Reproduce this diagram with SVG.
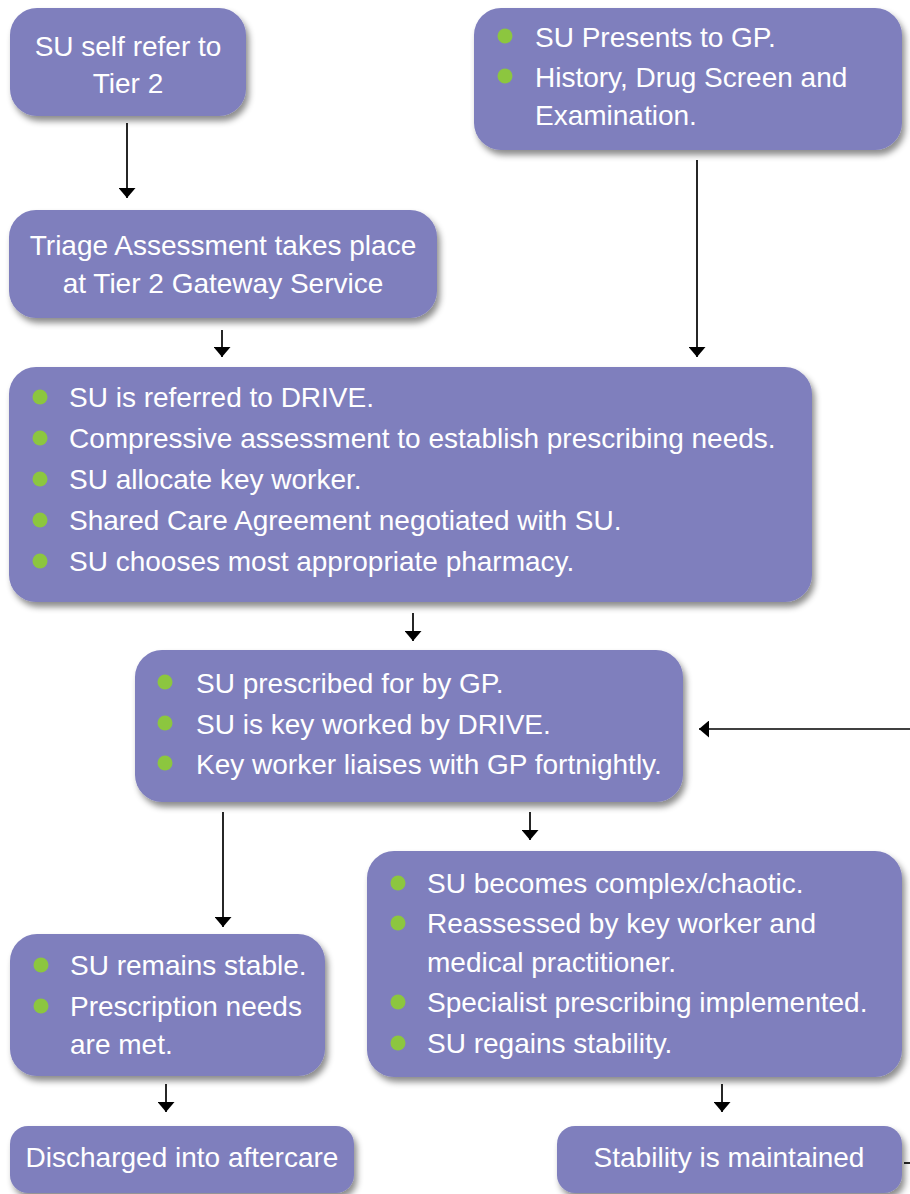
<svg xmlns="http://www.w3.org/2000/svg" width="910" height="1194" viewBox="0 0 910 1194">
<style>
.box{fill:#7F7FBD;filter:url(#sh)}
.t{font-family:"Liberation Sans",Arial,Helvetica,sans-serif;font-size:28px;fill:#FFFFFF}
.c{text-anchor:middle}
.b{fill:#8CC63F}
.ln{stroke:#000;stroke-width:1.7;fill:none}
.arr{marker-end:url(#ah)}
</style>
<defs>
<filter id="sh" x="-10%" y="-10%" width="130%" height="140%">
<feDropShadow dx="3" dy="5" stdDeviation="3" flood-color="#000" flood-opacity="0.45"/>
</filter>
<marker id="ah" viewBox="0 0 10 17" refX="10" refY="8.5" markerWidth="10" markerHeight="17" markerUnits="userSpaceOnUse" orient="auto">
<path d="M0,0 L10,8.5 L0,17 z" fill="#000"/>
</marker>
</defs>
<rect width="910" height="1194" fill="#FFFFFF"/>

<g id="connectors">
<line class="ln arr" x1="127" y1="123" x2="127" y2="198"/>
<line class="ln arr" x1="222" y1="330" x2="222" y2="357"/>
<line class="ln arr" x1="697" y1="160" x2="697" y2="357"/>
<line class="ln arr" x1="413" y1="613" x2="413" y2="641"/>
<line class="ln arr" x1="223" y1="812" x2="223" y2="927"/>
<line class="ln arr" x1="530" y1="812" x2="530" y2="840"/>
<line class="ln arr" x1="166" y1="1084" x2="166" y2="1112"/>
<line class="ln arr" x1="722" y1="1084" x2="722" y2="1112"/>
<line class="ln arr" x1="910" y1="729" x2="699" y2="729"/>
<line class="ln" x1="904" y1="1163" x2="910" y2="1163"/>
</g>

<g id="n-self-refer">
<rect class="box" x="10" y="8" width="236" height="108" rx="27"/>
<text class="t c" x="128" y="56">SU self refer to</text>
<text class="t c" x="128" y="93">Tier 2</text>
</g>

<g id="n-presents-gp">
<rect class="box" x="474" y="8" width="428" height="142" rx="27"/>
<circle class="b" cx="505" cy="36" r="7.5"/>
<text class="t" x="535" y="47">SU Presents to GP.</text>
<circle class="b" cx="505" cy="76" r="7.5"/>
<text class="t" x="535" y="87">History, Drug Screen and</text>
<text class="t" x="535" y="125">Examination.</text>
</g>

<g id="n-triage">
<rect class="box" x="9" y="210" width="428" height="108" rx="27"/>
<text class="t c" x="223" y="255">Triage Assessment takes place</text>
<text class="t c" x="223" y="293">at Tier 2 Gateway Service</text>
</g>

<g id="n-drive">
<rect class="box" x="9" y="367" width="803" height="235" rx="27"/>
<circle class="b" cx="40" cy="397" r="7.5"/>
<text class="t" x="69" y="407">SU is referred to DRIVE.</text>
<circle class="b" cx="40" cy="438" r="7.5"/>
<text class="t" x="69" y="448">Compressive assessment to establish prescribing needs.</text>
<circle class="b" cx="40" cy="479" r="7.5"/>
<text class="t" x="69" y="489">SU allocate key worker.</text>
<circle class="b" cx="40" cy="520" r="7.5"/>
<text class="t" x="69" y="530">Shared Care Agreement negotiated with SU.</text>
<circle class="b" cx="40" cy="561" r="7.5"/>
<text class="t" x="69" y="571">SU chooses most appropriate pharmacy.</text>
</g>

<g id="n-prescribed">
<rect class="box" x="135" y="650" width="548" height="152" rx="27"/>
<circle class="b" cx="165" cy="682" r="7.5"/>
<text class="t" x="196" y="693">SU prescribed for by GP.</text>
<circle class="b" cx="165" cy="723" r="7.5"/>
<text class="t" x="196" y="734">SU is key worked by DRIVE.</text>
<circle class="b" cx="165" cy="763" r="7.5"/>
<text class="t" x="196" y="774">Key worker liaises with GP fortnightly.</text>
</g>

<g id="n-stable">
<rect class="box" x="10" y="934" width="315" height="142" rx="27"/>
<circle class="b" cx="41" cy="965" r="7.5"/>
<text class="t" x="70" y="975">SU remains stable.</text>
<circle class="b" cx="41" cy="1006" r="7.5"/>
<text class="t" x="70" y="1016">Prescription needs</text>
<text class="t" x="70" y="1054">are met.</text>
</g>

<g id="n-complex">
<rect class="box" x="367" y="851" width="535" height="226" rx="27"/>
<circle class="b" cx="398" cy="883" r="7.5"/>
<text class="t" x="427" y="893">SU becomes complex/chaotic.</text>
<circle class="b" cx="398" cy="923" r="7.5"/>
<text class="t" x="427" y="933">Reassessed by key worker and</text>
<text class="t" x="427" y="972">medical practitioner.</text>
<circle class="b" cx="398" cy="1002" r="7.5"/>
<text class="t" x="427" y="1012">Specialist prescribing implemented.</text>
<circle class="b" cx="398" cy="1043" r="7.5"/>
<text class="t" x="427" y="1053">SU regains stability.</text>
</g>

<g id="n-discharged">
<rect class="box" x="10" y="1126" width="344" height="67" rx="18"/>
<text class="t c" x="182" y="1167">Discharged into aftercare</text>
</g>

<g id="n-maintained">
<rect class="box" x="557" y="1126" width="345" height="67" rx="18"/>
<text class="t c" x="729" y="1167">Stability is maintained</text>
</g>
</svg>
